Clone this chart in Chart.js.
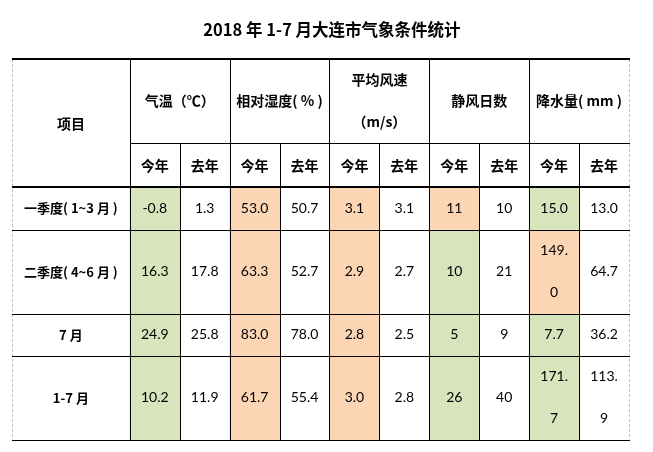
<!DOCTYPE html>
<html>
<head>
<meta charset="utf-8">
<title>2018年1-7月大连市气象条件统计</title>
<script src="https://cdn.jsdelivr.net/npm/chart.js@4/dist/chart.umd.min.js"></script>
<style>
  html, body { margin: 0; padding: 0; background: #fff; }
</style>
</head>
<body>
<canvas id="myChart" width="653" height="452"></canvas>
<script>
// Table data
const titleText = '2018 年 1-7 月大连市气象条件统计';
const rowLabels = ['一季度( 1~3 月 )', '二季度( 4~6 月 )', '7 月', '1-7 月'];
const groupLabels = ['气温（℃）', '相对湿度( % )', '平均风速\n（m/s）', '静风日数', '降水量( mm )'];
const yearLabels = ['今年', '去年'];

const temp2018 = [-0.8, 16.3, 24.9, 10.2];
const temp2017 = [1.3, 17.8, 25.8, 11.9];
const hum2018 = [53.0, 63.3, 83.0, 61.7];
const hum2017 = [50.7, 52.7, 78.0, 55.4];
const wind2018 = [3.1, 2.9, 2.8, 3.0];
const wind2017 = [3.1, 2.7, 2.5, 2.8];
const calm2018 = [11, 10, 5, 26];
const calm2017 = [10, 21, 9, 40];
const rain2018 = [15.0, 149.0, 7.7, 171.7];
const rain2017 = [13.0, 64.7, 36.2, 113.9];

// highlight kind of the "今年" cells (A / B)
const tempMark = ['A', 'A', 'A', 'A'];
const humMark = ['B', 'B', 'B', 'B'];
const windMark = ['B', 'B', 'B', 'B'];
const calmMark = ['B', 'A', 'A', 'A'];
const rainMark = ['A', 'B', 'A', 'A'];

// layout (in grid units)
const decimals = [1, 1, 1, 0, 1];
const firstColUnits = 2.36;
const headerUnits = [2, 1.05];
const rowUnits = [1, 2, 1, 2];
const titleUnits = 0.7; // title sits above the table
const titleShift = 0.23; // title is a bit right of the table centre

const markColors = { A: '#D8E4BC', B: '#FCD5B4' };
const cjkFont = '"Noto Sans CJK SC", sans-serif';
const numFont = 'Lato, "Noto Sans CJK SC", sans-serif';

// build the 10 value columns
const groups = [
  [temp2018, temp2017, tempMark],
  [hum2018, hum2017, humMark],
  [wind2018, wind2017, windMark],
  [calm2018, calm2017, calmMark],
  [rain2018, rain2017, rainMark]
];
const columns = [];
groups.forEach((g, i) => {
  columns.push({ values: g[0], mark: g[2], dec: decimals[i] });
  columns.push({ values: g[1], mark: null, dec: decimals[i] });
});

const headerTotal = headerUnits[0] + headerUnits[1];
const rowTops = [];
let acc = headerTotal;
rowUnits.forEach(u => { rowTops.push(acc); acc += u; });
const yMax = acc;
const xMin = -firstColUnits;
const xMax = columns.length;

const datasets = rowLabels.map((label, r) => ({
  label: label,
  data: columns.map((col, c) => ({ x: c + 0.5, y: [rowTops[r], rowTops[r] + rowUnits[r]] })),
  backgroundColor: columns.map(col => col.mark ? markColors[col.mark[r]] : 'rgba(0,0,0,0)'),
  borderWidth: 0,
  grouped: false,
  categoryPercentage: 1,
  barPercentage: 1
}));

// wrap a string to fit maxWidth, char by char (like the cell wrap)
function wrapText(ctx, str, maxWidth) {
  const lines = [];
  let line = '';
  for (const ch of str) {
    if (line && ctx.measureText(line + ch).width > maxWidth) {
      lines.push(line);
      line = ch;
    } else {
      line += ch;
    }
  }
  lines.push(line);
  return lines;
}

const tablePlugin = {
  id: 'tableGrid',
  afterDatasetsDraw(chart) {
    const { ctx, scales: { x, y } } = chart;
    const px = v => x.getPixelForValue(v);
    const py = v => y.getPixelForValue(v);
    const unit = py(1) - py(0);
    const crisp = (p, w) => (w % 2 ? Math.round(p) + 0.5 : Math.round(p));

    ctx.save();

    function hLine(v, x0, x1, w) {
      const yy = crisp(py(v), w);
      ctx.lineWidth = w;
      ctx.beginPath();
      ctx.moveTo(Math.round(px(x0)), yy);
      ctx.lineTo(Math.round(px(x1)) + 1, yy);
      ctx.stroke();
    }
    function vLine(v, y0, y1, w) {
      const xx = crisp(px(v), w);
      ctx.lineWidth = w;
      ctx.beginPath();
      ctx.moveTo(xx, Math.round(py(y0)));
      ctx.lineTo(xx, Math.round(py(y1)));
      ctx.stroke();
    }

    // dashed sheet gridlines on the outer sides
    ctx.strokeStyle = '#c0c0c0';
    ctx.setLineDash([3, 2]);
    vLine(xMin, 0, yMax, 1);
    vLine(xMax, 0, yMax, 1);
    ctx.setLineDash([]);

    // borders
    ctx.strokeStyle = '#000';
    for (let c = 0; c < xMax; c += 2) vLine(c, 0, yMax, 1);
    for (let c = 1; c < xMax; c += 2) vLine(c, headerUnits[0], yMax, 1);
    hLine(headerUnits[0], 0, xMax, 1);
    rowTops.forEach((t, r) => {
      if (r > 0) hLine(t, xMin, xMax, 1);
    });
    hLine(yMax, xMin, xMax, 1);
    hLine(0, xMin, xMax, 2);
    hLine(headerTotal, xMin, xMax, 2);

    // text
    ctx.fillStyle = '#000';
    ctx.textAlign = 'center';
    ctx.textBaseline = 'middle';

    ctx.font = 'bold 16.5px ' + cjkFont;
    ctx.fillText(titleText, px((xMin + xMax) / 2 + titleShift), py(-titleUnits));

    const firstColX = (px(xMin) + px(0)) / 2;
    ctx.font = 'bold 14px ' + cjkFont;
    ctx.fillText('项目', firstColX, py(headerTotal / 2));

    groupLabels.forEach((label, g) => {
      const lines = label.split('\n');
      const cy = py(headerUnits[0] / 2);
      lines.forEach((ln, i) => {
        ctx.fillText(ln, px(g * 2 + 1), cy + (i - (lines.length - 1) / 2) * unit);
      });
    });

    columns.forEach((col, c) => {
      ctx.fillText(yearLabels[c % 2], px(c + 0.5), py(headerUnits[0] + headerUnits[1] / 2));
    });

    ctx.font = 'bold 13px ' + cjkFont;
    rowLabels.forEach((label, r) => {
      ctx.fillText(label, firstColX, py(rowTops[r] + rowUnits[r] / 2));
    });

    ctx.font = '14px ' + numFont;
    const cellW = px(1) - px(0);
    columns.forEach((col, c) => {
      col.values.forEach((v, r) => {
        const lines = wrapText(ctx, v.toFixed(col.dec), cellW - 16);
        const cy = py(rowTops[r] + rowUnits[r] / 2);
        lines.forEach((ln, i) => {
          ctx.fillText(ln, px(c + 0.5), cy + (i - (lines.length - 1) / 2) * unit);
        });
      });
    });

    ctx.restore();
  }
};

const canvas = document.getElementById('myChart');
const myChart = new Chart(canvas.getContext('2d'), {
  type: 'bar',
  data: { datasets: datasets },
  options: {
    responsive: false,
    animation: false,
    layout: { padding: { left: 12, right: 24, top: 59, bottom: 12 } },
    plugins: {
      legend: { display: false },
      tooltip: { enabled: false },
      title: { display: false }
    },
    scales: {
      x: {
        type: 'linear',
        display: false,
        min: xMin,
        max: xMax,
        offset: false,
        afterBuildTicks: scale => { scale.ticks = []; }
      },
      y: {
        type: 'linear',
        display: false,
        reverse: true,
        min: 0,
        max: yMax
      }
    }
  },
  plugins: [tablePlugin]
});
</script>
</body>
</html>
